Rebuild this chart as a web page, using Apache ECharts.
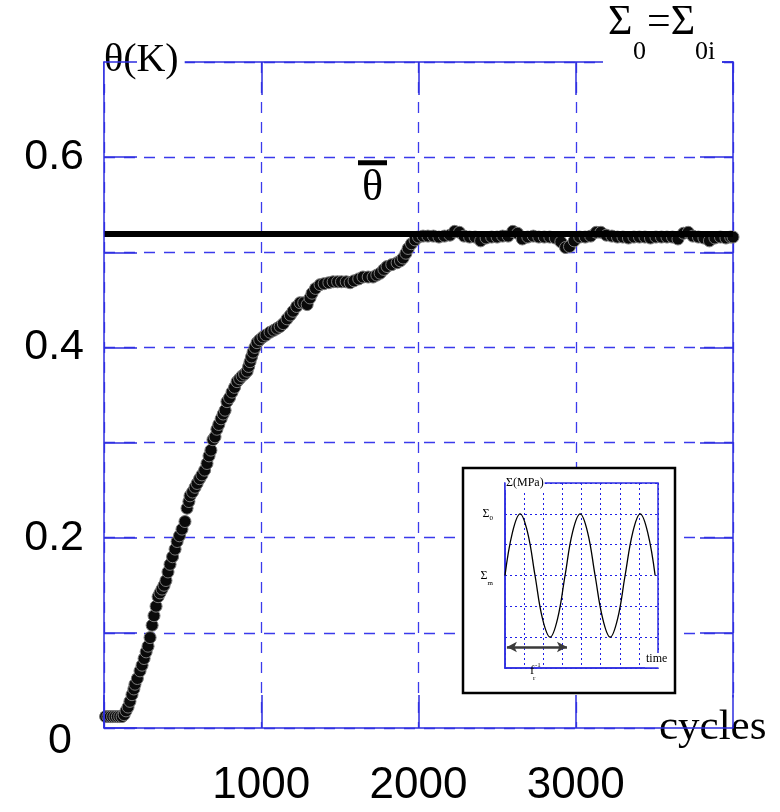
<!DOCTYPE html>
<html>
<head>
<meta charset="utf-8">
<script src="https://cdn.jsdelivr.net/npm/echarts@6/dist/echarts.min.js"></script>
<style>
  html, body { margin: 0; padding: 0; background: #fff; }
  #chart { width: 780px; height: 812px; }
</style>
</head>
<body>
<div id="chart"></div>
<script>
// Mean temperature rise theta (K) against number of loading cycles
const cycles = [
  10, 25, 40, 55, 70, 85, 100, 115, 128, 140, 153, 165, 178, 190, 197, 212, 229, 242, 255, 268,
  280, 293, 306, 318, 331, 344, 356, 369, 382, 394, 407, 420, 436, 452, 465, 480, 496, 515, 528, 540,
  547, 563, 579, 592, 608, 623, 640, 655, 668, 680, 693, 706, 718, 730, 745, 758, 770, 782, 798, 814,
  830, 846, 862, 878, 894, 910, 920, 929, 938, 948, 960, 973, 990, 1011, 1030, 1056, 1080, 1100, 1120, 1140,
  1164, 1185, 1202, 1225, 1247, 1270, 1292, 1310, 1323, 1345, 1374, 1400, 1430, 1457, 1485, 1510, 1540, 1565, 1590, 1620,
  1647, 1680, 1711, 1735, 1756, 1780, 1800, 1830, 1864, 1885, 1902, 1920, 1934, 1955, 1978, 2000, 2029,
  2060, 2095, 2130, 2165, 2200, 2230, 2260, 2290, 2325, 2360, 2395, 2430, 2465, 2500, 2535, 2570, 2600, 2630, 2660, 2695,
  2730, 2765, 2800, 2835, 2870, 2905, 2935, 2960, 2990, 3025, 3060, 3095, 3130, 3160, 3195, 3230, 3265, 3300, 3335, 3370,
  3405, 3440, 3475, 3510, 3545, 3580, 3615, 3650, 3685, 3715, 3745, 3780, 3815, 3850, 3885, 3920, 3955, 3985, 4000
];
const theta = [
  0.012, 0.012, 0.012, 0.012, 0.012, 0.012, 0.012, 0.012, 0.014, 0.018, 0.022, 0.028, 0.035, 0.041, 0.046, 0.052, 0.060, 0.066, 0.073, 0.080,
  0.086, 0.095, 0.108, 0.118, 0.128, 0.138, 0.142, 0.146, 0.150, 0.155, 0.164, 0.172, 0.180, 0.188, 0.196, 0.202, 0.209, 0.217, 0.231, 0.238,
  0.244, 0.248, 0.253, 0.257, 0.262, 0.266, 0.271, 0.278, 0.286, 0.292, 0.303, 0.306, 0.314, 0.319, 0.325, 0.330, 0.334, 0.343, 0.347, 0.353,
  0.358, 0.364, 0.367, 0.370, 0.372, 0.375, 0.380, 0.385, 0.390, 0.395, 0.400, 0.405, 0.408, 0.411, 0.413, 0.416, 0.418, 0.420, 0.422, 0.425,
  0.430, 0.434, 0.438, 0.443, 0.447, 0.447, 0.445, 0.452, 0.457, 0.462, 0.466, 0.467, 0.468, 0.469, 0.469, 0.469, 0.469, 0.468, 0.470, 0.472,
  0.474, 0.474, 0.474, 0.476, 0.478, 0.482, 0.485, 0.487, 0.489, 0.491, 0.494, 0.499, 0.504, 0.509, 0.513, 0.516, 0.517,
  0.517, 0.517, 0.516, 0.517, 0.518, 0.522, 0.521, 0.517, 0.516, 0.516, 0.512, 0.515, 0.516, 0.516, 0.517, 0.517, 0.522, 0.520, 0.514, 0.516,
  0.517, 0.516, 0.516, 0.516, 0.515, 0.511, 0.505, 0.506, 0.512, 0.516, 0.516, 0.517, 0.521, 0.521, 0.518, 0.517, 0.516, 0.516, 0.515, 0.516,
  0.516, 0.516, 0.515, 0.516, 0.516, 0.516, 0.516, 0.514, 0.520, 0.521, 0.517, 0.516, 0.515, 0.512, 0.515, 0.516, 0.515, 0.516, 0.516
];
const thetaMean = 0.52;

const xTickLabels = [1000, 2000, 3000];
const yTickLabels = [0, 0.2, 0.4, 0.6];

// Inset: cyclic stress signal against time
const insetTime = [0, 0.39, 0.79, 1.18, 1.57, 1.96, 2.36, 2.75, 3.14, 3.53, 3.93, 4.32, 4.71, 5.11, 5.50, 5.89, 6.28, 6.68, 7.07, 7.46, 7.85];
const insetStress = [3, 4.4, 5, 4.4, 3, 1.6, 1, 1.6, 3, 4.4, 5, 4.4, 3, 1.6, 1, 1.6, 3, 4.4, 5, 4.4, 3];
const stressMax = 5;      // Sigma_0 level
const stressMean = 3;     // Sigma_m level
const period = 3.14;      // one loading period, 1/f_r

const SANS = 'Liberation Sans';
const SERIF = 'Liberation Serif';
const AXIS = '#2e2ee0';
const GRID = '#3a3aec';

const chart = echarts.init(document.getElementById('chart'), null, { renderer: 'canvas' });

const frameLine = () => ({ show: true, onZero: false, lineStyle: { color: AXIS, width: 1.5 } });
const frameTick = () => ({ show: true, inside: true, length: 33, lineStyle: { color: AXIS, width: 1.5 } });
const dashed = () => ({ show: true, lineStyle: { color: GRID, width: 1.3, type: [11, 9], opacity: 1 } });
const dotted = () => ({ show: true, lineStyle: { color: '#2020e8', width: 1, type: [2, 3], opacity: 1 } });

chart.setOption({
  animation: false,
  backgroundColor: '#fff',
  grid: [
    { left: 104, right: 47, top: 62, bottom: 84 },
    { left: 505, right: 122, top: 483, bottom: 144, show: true, z: 4,
      borderColor: AXIS, borderWidth: 1.5, backgroundColor: 'transparent' }
  ],
  xAxis: [
    {
      gridIndex: 0, type: 'value', min: 0, max: 4000, interval: 1000, position: 'bottom', z: 10,
      axisLine: frameLine(), axisTick: frameTick(), splitLine: { show: false },
      axisLabel: {
        margin: 36, fontSize: 44, fontFamily: SANS, color: '#000', showMinLabel: true, showMaxLabel: true,
        formatter: v => (xTickLabels.includes(v) ? String(v) : '')
      },
      name: 'cycles', nameLocation: 'end', nameGap: -78,
      nameTextStyle: {
        fontFamily: SERIF, fontSize: 43, color: '#000', align: 'left', verticalAlign: 'middle',
        backgroundColor: '#fff', padding: [10, 6, 8, 4]
      }
    },
    {
      gridIndex: 0, type: 'value', min: 0, max: 4000, interval: 1000, position: 'top', z: 0,
      axisLine: frameLine(), axisTick: frameTick(), axisLabel: { show: false }, splitLine: dashed()
    },
    {
      gridIndex: 1, type: 'value', min: 0, max: 8, interval: 1, z: 5,
      axisLine: { show: true, onZero: false, lineStyle: { color: AXIS, width: 1.5 } },
      axisTick: { show: false }, axisLabel: { show: false }, splitLine: dotted(),
      name: 'time', nameLocation: 'end', nameGap: -13,
      nameTextStyle: {
        fontFamily: SERIF, fontSize: 12, color: '#000', align: 'left', verticalAlign: 'bottom',
        backgroundColor: '#fff', padding: [0, 1, 3, 1]
      }
    }
  ],
  yAxis: [
    {
      gridIndex: 0, type: 'value', min: 0, max: 0.7, interval: 0.1, position: 'left', z: 10,
      axisLine: frameLine(), axisTick: frameTick(), splitLine: { show: false },
      axisLabel: {
        margin: 20, fontSize: 43, fontFamily: SANS, color: '#000', showMinLabel: true,
        formatter: v => {
          const k = Math.round(v * 10);
          const hit = yTickLabels.find(t => Math.round(t * 10) === k);
          if (hit === undefined) return '';
          return k === 0 ? '{z|0}' : hit.toFixed(1);
        },
        rich: { z: { fontSize: 43, fontFamily: SANS, color: '#000', padding: [26, 12, 0, 0] } }
      },
      name: 'θ(K)', nameLocation: 'end', nameGap: 2,
      nameTextStyle: {
        fontFamily: SERIF, fontSize: 40, color: '#000', align: 'left', verticalAlign: 'middle',
        backgroundColor: '#fff', padding: [2, 6, 6, 0]
      }
    },
    {
      gridIndex: 0, type: 'value', min: 0, max: 0.7, interval: 0.1, position: 'right', z: 0,
      axisLine: frameLine(), axisTick: frameTick(), axisLabel: { show: false }, splitLine: dashed()
    },
    {
      gridIndex: 1, type: 'value', min: 0, max: 6, interval: 1, z: 5,
      axisLine: { show: true, onZero: false, lineStyle: { color: AXIS, width: 1.5 } },
      axisTick: { show: false }, splitLine: dotted(),
      axisLabel: {
        margin: 12, color: '#000',
        formatter: v => (v === stressMax ? '{s|Σ}{b|0}' : v === stressMean ? '{s|Σ}{m|m}' : ''),
        rich: {
          s: { fontFamily: SERIF, fontSize: 12, color: '#000' },
          b: { fontFamily: SERIF, fontSize: 7, color: '#000', padding: [8, 0, 0, 0] },
          m: { fontFamily: SERIF, fontSize: 7, color: '#000', padding: [16, 0, 0, 0] }
        }
      },
      name: 'Σ(MPa)', nameLocation: 'end', nameGap: 0,
      nameTextStyle: {
        fontFamily: SERIF, fontSize: 12, color: '#000', align: 'left', verticalAlign: 'middle',
        backgroundColor: '#fff', padding: [1, 1, 1, 1]
      }
    }
  ],
  series: [
    {
      type: 'scatter', xAxisIndex: 0, yAxisIndex: 0, z: 2,
      data: cycles.map((c, i) => [c, theta[i]]),
      symbol: 'circle', symbolSize: 12,
      itemStyle: { color: '#0a0a0a', borderColor: '#7a7a7a', borderWidth: 1, opacity: 1 },
      markLine: {
        silent: true, symbol: 'none', animation: false,
        lineStyle: { color: '#000', width: 6, type: 'solid' },
        data: [{ yAxis: thetaMean }],
        label: {
          show: true, position: 'insideMiddleTop', distance: 22, offset: [-46, 0],
          formatter: '{bar|}\n{t|θ}',
          rich: {
            bar: { width: 29, height: 5, backgroundColor: '#000', align: 'center' },
            t: { fontFamily: SERIF, fontSize: 44, lineHeight: 46, color: '#000', align: 'center' }
          }
        },
        emphasis: { disabled: true }
      }
    },
    {
      type: 'line', xAxisIndex: 2, yAxisIndex: 2, z: 6, clip: false,
      data: insetTime.map((t, i) => [t, insetStress[i]]),
      smooth: 0.4, showSymbol: false, symbol: 'none',
      lineStyle: { color: '#000', width: 1.3 },
      markLine: {
        silent: true, animation: false, label: { show: false },
        data: [
          [
            { coord: [-0.37, stressMean], symbol: 'none', lineStyle: { color: '#000', width: 1.2, type: 'solid' } },
            { coord: [-0.37, stressMax], symbol: 'arrow', symbolSize: [7, 10] }
          ],
          [
            { coord: [0.1, 0.68], symbol: 'arrow', symbolSize: [8, 10], lineStyle: { color: '#3a3a3a', width: 2.5, type: 'solid' } },
            { coord: [0.1 + period, 0.68], symbol: 'arrow', symbolSize: [8, 10] }
          ]
        ]
      }
    }
  ],
  graphic: [
    {
      type: 'rect', z: 3, silent: true,
      shape: { x: 463, y: 468, width: 212, height: 225 },
      style: { fill: '#fff', stroke: '#000', lineWidth: 2.5 }
    },
    { type: 'rect', z: 50, silent: true, shape: { x: 603, y: 40, width: 119, height: 30 }, style: { fill: '#fff' } },
    { type: 'text', z: 60, x: 608, y: 23, style: { text: 'Σ', font: `42px "${SERIF}"`, fill: '#000', align: 'left', verticalAlign: 'middle' } },
    { type: 'text', z: 60, x: 633, y: 52, style: { text: '0', font: `26px "${SERIF}"`, fill: '#000', align: 'left', verticalAlign: 'middle' } },
    { type: 'text', z: 60, x: 647, y: 23, style: { text: '=Σ', font: `42px "${SERIF}"`, fill: '#000', align: 'left', verticalAlign: 'middle' } },
    { type: 'text', z: 60, x: 695, y: 52, style: { text: '0i', font: `26px "${SERIF}"`, fill: '#000', align: 'left', verticalAlign: 'middle' } },
    { type: 'text', z: 60, x: 530, y: 671, style: { text: 'f', font: `13px "${SERIF}"`, fill: '#000', align: 'left', verticalAlign: 'middle' } },
    { type: 'text', z: 60, x: 535, y: 665, style: { text: '-1', font: `7px "${SERIF}"`, fill: '#000', align: 'left', verticalAlign: 'middle' } },
    { type: 'text', z: 60, x: 533, y: 678, style: { text: 'r', font: `7px "${SERIF}"`, fill: '#000', align: 'left', verticalAlign: 'middle' } }
  ]
});
</script>
</body>
</html>
